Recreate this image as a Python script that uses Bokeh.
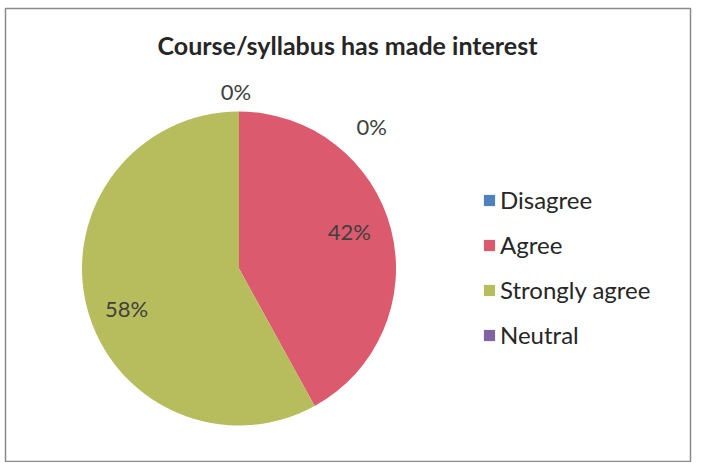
import math
from bokeh.plotting import figure
from bokeh.models import ColumnDataSource, Range1d, Legend, LegendItem, Label
from bokeh.embed import file_html
from bokeh.resources import INLINE

# ---- data ----
categories = ["Disagree", "Agree", "Strongly agree", "Neutral"]
shares = [0.0, 42.0, 58.0, 0.0]
label_texts = ["0%", "42%", "58%", "0%"]
title_text = "Course/syllabus has made interest"

# ---- styles / layout ----
colors = ["#4F81BD", "#DB5A6E", "#B7BD5C", "#8064A2"]
label_radius = [1.125, 0.74, 0.76, 1.24]
label_angle_nudge = [1.0, 4.0, 5.0, -43.0]  # degrees (label overlap avoidance)
FONT = "Lato"
BL, BT, BR, BB = 5, 8, 10, 0       # borders around the frame
FW, FH = 685, 454                  # frame size
W, H = BL + FW + BR, BT + FH + BB
R_PX = 157.0
CX_PX, CY_PX = 233.5, 260.0        # pie centre in frame pixels from top-left

total = sum(shares)
starts, ends, radii, lx, ly = [], [], [], [], []
cum = 0.0
for i, s in enumerate(shares):
    a0 = math.pi / 2 - 2 * math.pi * cum / total
    cum += s
    a1 = math.pi / 2 - 2 * math.pi * cum / total
    starts.append(a0)
    ends.append(a1)
    radii.append(1.0 if s > 0 else 0.0)
    mid = (a0 + a1) / 2 + math.radians(label_angle_nudge[i])
    lx.append(label_radius[i] * math.cos(mid))
    ly.append(label_radius[i] * math.sin(mid))

src = ColumnDataSource(dict(cat=categories, start=starts, end=ends, r=radii, color=colors))
lsrc = ColumnDataSource(dict(x=lx, y=ly, text=label_texts))

p = figure(width=W, height=H, output_backend="svg", toolbar_location=None,
           x_range=Range1d(-CX_PX / R_PX, (FW - CX_PX) / R_PX),
           y_range=Range1d(-(FH - CY_PX) / R_PX, CY_PX / R_PX),
           min_border_left=BL, min_border_top=BT, min_border_right=BR, min_border_bottom=BB,
           background_fill_color="white", border_fill_color="white")
p.axis.visible = False
p.grid.visible = False
p.outline_line_color = "#8a8a8a"
p.outline_line_width = 1.5

wr = p.wedge(x=0, y=0, radius="r", radius_units="data", start_angle="start", end_angle="end",
             direction="clock", fill_color="color", line_color=None, source=src)

p.text(x="x", y="y", text="text", source=lsrc, text_align="center", text_baseline="middle",
       text_font_size="22px", text_color="#404040", text_font={"value": FONT})

p.add_layout(Label(x=342, y=FH - 36, x_units="screen", y_units="screen", text=title_text,
                   text_align="center", text_baseline="middle", text_font=FONT,
                   text_font_size="25px", text_font_style="bold", text_color="#262626"))

items = [LegendItem(label=c, renderers=[wr], index=i) for i, c in enumerate(categories)]
legend = Legend(items=items, location=(477, 113), orientation="vertical",
                glyph_width=14, glyph_height=14, label_standoff=4, spacing=16,
                label_height=24, padding=0, margin=0, border_line_color=None,
                background_fill_alpha=0, label_text_font=FONT, label_text_font_size="24px",
                label_text_color="#262626")
p.add_layout(legend)

open("out.html", "w").write(file_html(p, INLINE))
